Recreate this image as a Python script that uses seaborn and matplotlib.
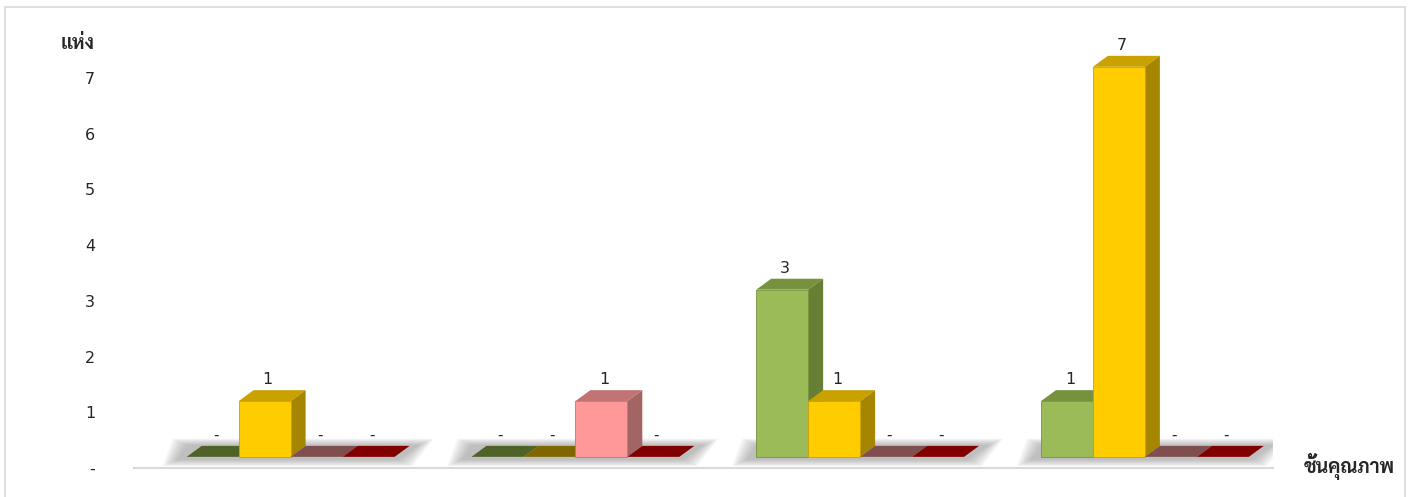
import matplotlib
matplotlib.use("Agg")
import matplotlib.pyplot as plt
from matplotlib.patches import Polygon, Rectangle
import numpy as np
import pandas as pd
import seaborn as sns

# data
groups = ["1", "2", "3", "4"]
series = ["A", "B", "C", "D"]
vals_a = [0, 0, 3, 1]   # green
vals_b = [1, 0, 1, 7]   # yellow
vals_c = [0, 1, 0, 0]   # pink
vals_d = [0, 0, 0, 0]   # dark red
ytick_labels = ["-", "1", "2", "3", "4", "5", "6", "7"]

front = ["#9BBB59", "#FFCC00", "#FF9999", "#800000"]
top = ["#76923C", "#C9A200", "#C27474", "#800000"]
side = ["#667F35", "#A68500", "#A36464", "#6E0000"]
floor = ["#4F6228", "#7F6600", "#7F4F4F", "#800000"]

df = pd.DataFrame({
    "group": groups * 4,
    "series": [s for s in series for _ in groups],
    "value": vals_a + vals_b + vals_c + vals_d,
})

sns.set_style("white")
plt.rcParams["font.family"] = ["DejaVu Sans"]

W, H = 1412, 497
fig = plt.figure(figsize=(W / 100, H / 100), dpi=100)
ax = fig.add_axes([134 / W, (H - 468) / H, (1273 - 134) / W, 448 / H])

sns.barplot(data=df, x="group", y="value", hue="series", palette=front,
            width=0.73, dodge=True, legend=False, ax=ax, saturation=1,
            linewidth=0, edgecolor="none", errorbar=None)

ax.set_xlim(-0.55, 3.45)
ax.set_ylim(-0.18, 7.84)

# depth of the 3D look in data units
ppx = (1273 - 134) / 4.0     # pixels per x unit
ppy = 448 / 8.02             # pixels per y unit
dx = 15 / ppx
dy = 11 / ppy

bars = sorted(ax.patches, key=lambda p: p.get_x())
z = 3
for p in bars:
    x0, w, h = p.get_x(), p.get_width(), p.get_height()
    hexc = matplotlib.colors.to_hex(p.get_facecolor()).upper()
    si = front.index(hexc) if hexc in front else 0
    if h == 0:
        p.set_visible(False)
        ax.add_patch(Polygon([(x0, 0), (x0 + w, 0), (x0 + w + dx, dy), (x0 + dx, dy)],
                             closed=True, facecolor=floor[si], edgecolor="none", zorder=z))
        ax.text(x0 + w / 2 + dx * 0.2, dy + 0.05, "-", ha="center", va="bottom",
                fontsize=11, zorder=20)
    else:
        p.set_zorder(z + 0.2)
        p.set_edgecolor(top[si])
        p.set_linewidth(0.6)
        ax.add_patch(Polygon([(x0, h), (x0 + w, h), (x0 + w + dx, h + dy), (x0 + dx, h + dy)],
                             closed=True, facecolor=top[si], edgecolor="none", zorder=z + 0.1))
        ax.add_patch(Polygon([(x0 + w, 0), (x0 + w + dx, dy), (x0 + w + dx, h + dy), (x0 + w, h)],
                             closed=True, facecolor=side[si], edgecolor="none", zorder=z + 0.1))
        ax.text(x0 + w / 2 + dx * 0.2, h + dy + 0.05, f"{h:g}", ha="center", va="bottom",
                fontsize=11.5, zorder=20)
    z += 1

# soft shadow under each group floor
n = 8
for i in range(len(groups)):
    gx0 = i - 0.73 / 2
    gx1 = i + 0.73 / 2
    for k in range(n):
        ex = (n - k) * 2.0 / ppx
        ey = (n - k) * 0.9 / ppy
        ax.add_patch(Polygon([(gx0 - 8 / ppx - ex, -2 / ppy - ey), (gx1 + 2 / ppx + ex, -2 / ppy - ey),
                              (gx1 + dx + 8 / ppx + ex, dy + ey), (gx0 + 2 / ppx - ex, dy + ey)],
                             closed=True, facecolor="#808080", alpha=0.08,
                             edgecolor="none", zorder=1))

ax.set_yticks(np.arange(8) - 0.2)
ax.set_yticklabels(ytick_labels, fontsize=11.5)
ax.tick_params(axis="y", length=0, pad=28)
ax.set_xticks([])
ax.set_xlabel("")
ax.set_ylabel("")
for s in ["top", "right", "left"]:
    ax.spines[s].set_visible(False)
ax.spines["bottom"].set_color("#D9D9D9")
ax.spines["bottom"].set_linewidth(1.5)
ax.patch.set_alpha(0)

fig.text(61 / W, 1 - 44 / H, "แห่ง", fontsize=14, fontweight="bold",
         family=["Sarabun", "DejaVu Sans"], va="center", ha="left")
fig.text(1304 / W, 1 - 466 / H, "ชั้นคุณภาพ", fontsize=14, fontweight="bold",
         family=["Sarabun", "DejaVu Sans"], va="center", ha="left")

# chart-area frame
fig.patches.append(Rectangle((5 / W, -0.05), 1400 / W, 1 - 7 / H + 0.05,
                             transform=fig.transFigure, fill=False,
                             edgecolor="#D9D9D9", linewidth=1.2))

fig.savefig("out.png", dpi=100)
